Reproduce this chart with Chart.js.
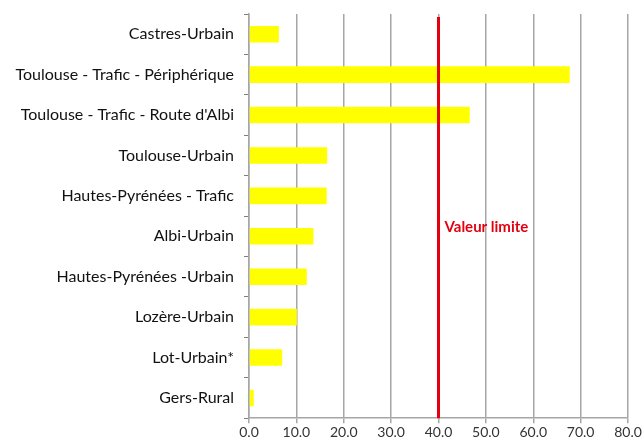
<!DOCTYPE html>
<html>
<head>
<meta charset="utf-8">
<script src="https://cdn.jsdelivr.net/npm/chart.js@4"></script>
<style>
  html, body { margin: 0; padding: 0; background: #fff; }
  #wrap { width: 644px; height: 446px; }
</style>
</head>
<body>
<div id="wrap"><canvas id="chart" width="644" height="446"></canvas></div>
<script>
const stations = [
  "Castres-Urbain",
  "Toulouse - Trafic - Périphérique",
  "Toulouse - Trafic - Route d'Albi",
  "Toulouse-Urbain",
  "Hautes-Pyrénées - Trafic",
  "Albi-Urbain",
  "Hautes-Pyrénées -Urbain",
  "Lozère-Urbain",
  "Lot-Urbain*",
  "Gers-Rural",
];
const values = [6.3, 67.7, 46.6, 16.5, 16.4, 13.6, 12.2, 10.1, 7.0, 1.0];
const xTicks = [0, 10, 20, 30, 40, 50, 60, 70, 80];
const limitValue = 40;
const limitLabel = "Valeur limite";

// ligne de la valeur limite
const limitLine = {
  id: "limitLine",
  afterDatasetsDraw(chart) {
    const { ctx, chartArea, scales } = chart;
    const x = scales.x.getPixelForValue(limitValue);
    ctx.save();
    ctx.strokeStyle = "#e3000f";
    ctx.lineWidth = 3;
    ctx.beginPath();
    ctx.moveTo(x, chartArea.top + 3);
    ctx.lineTo(x, chartArea.bottom);
    ctx.stroke();
    ctx.fillStyle = "#e3000f";
    ctx.font = "bold 15px Lato, sans-serif";
    ctx.textBaseline = "middle";
    ctx.fillText(limitLabel, x + 6, scales.y.getPixelForValue(5) - 9);
    ctx.restore();
  },
};

const ctx = document.getElementById("chart").getContext("2d");
new Chart(ctx, {
  type: "bar",
  data: {
    labels: stations,
    datasets: [
      {
        data: values,
        backgroundColor: "#ffff00",
        categoryPercentage: 1,
        barPercentage: 0.41,
      },
    ],
  },
  options: {
    indexAxis: "y",
    responsive: false,
    animation: false,
    layout: { padding: { top: 14, right: 16, left: 0, bottom: 4 } },
    plugins: {
      legend: { display: false },
      tooltip: { enabled: false },
    },
    scales: {
      x: {
        min: 0,
        max: 80,
        afterBuildTicks: (scale) => {
          scale.ticks = xTicks.map((v) => ({ value: v }));
        },
        grid: {
          color: "#a6a6a6",
          lineWidth: 1.5,
          tickLength: 5,
          drawTicks: true,
        },
        border: { display: true, color: "#a6a6a6", width: 1.5 },
        ticks: {
          color: "#333",
          font: { family: "Lato, sans-serif", size: 14 },
          padding: 1,
          maxRotation: 0,
          callback: (v) => Number(v).toFixed(1),
        },
      },
      y: {
        afterFit: (scale) => {
          scale.width = 249;
          scale.paddingTop = 0;
          scale.paddingBottom = 0;
        },
        grid: {
          offset: true,
          drawOnChartArea: false,
          tickLength: 5,
          color: "#808080",
        },
        border: { display: true, color: "#a6a6a6", width: 1.5 },
        ticks: {
          color: "#111",
          font: { family: "Lato, sans-serif", size: 16 },
          padding: 10,
        },
      },
    },
  },
  plugins: [limitLine],
});
</script>
</body>
</html>
